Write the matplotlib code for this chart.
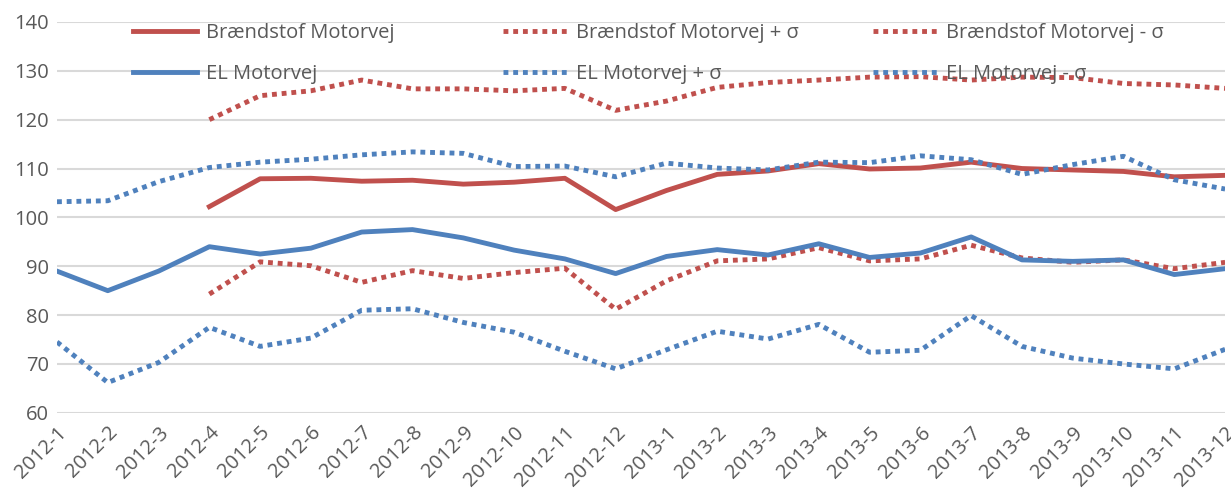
import matplotlib.pyplot as plt
import numpy as np

months = [f"2012-{m}" for m in range(1, 13)] + [f"2013-{m}" for m in range(1, 13)]

# EL Motorvej (full 24 months)
el = [89.0, 85.0, 89.0, 94.0, 92.5, 93.7, 97.0, 97.5, 95.8, 93.3, 91.5, 88.5,
      92.0, 93.4, 92.3, 94.6, 91.8, 92.7, 96.0, 91.3, 91.0, 91.3, 88.3, 89.5]
el_plus = [103.2, 103.4, 107.3, 110.2, 111.3, 111.9, 112.8, 113.4, 113.1, 110.4, 110.5, 108.3,
           111.1, 110.1, 109.7, 111.3, 111.2, 112.6, 111.8, 108.8, 110.8, 112.5, 107.7, 105.8]
el_minus = [74.5, 66.2, 70.3, 77.5, 73.6, 75.3, 81.0, 81.3, 78.5, 76.5, 72.6, 69.0,
            72.9, 76.7, 75.1, 78.1, 72.4, 72.8, 79.9, 73.6, 71.2, 70.0, 69.0, 73.0]

# Braendstof Motorvej (starts 2012-4)
fuel = [np.nan, np.nan, np.nan, 102.2, 107.9, 108.0, 107.4, 107.6, 106.8, 107.2, 108.0, 101.6,
        105.5, 108.8, 109.5, 111.0, 109.9, 110.1, 111.3, 110.0, 109.7, 109.4, 108.3, 108.6]
fuel_plus = [np.nan, np.nan, np.nan, 120.0, 124.9, 125.9, 128.1, 126.3, 126.3, 125.9, 126.4, 121.9,
             123.8, 126.6, 127.6, 128.1, 128.7, 128.8, 128.1, 128.7, 128.6, 127.4, 127.1, 126.4]
fuel_minus = [np.nan, np.nan, np.nan, 84.3, 90.9, 90.1, 86.7, 89.1, 87.5, 88.7, 89.6, 81.2,
              87.0, 91.1, 91.5, 93.8, 91.1, 91.5, 94.3, 91.7, 90.8, 91.3, 89.5, 90.8]

RED = "#C0504D"
BLUE = "#4F81BD"
TXT = "#595959"

plt.rcParams['font.family'] = ['Open Sans', 'DejaVu Sans']

fig = plt.figure(figsize=(12.31, 4.98), dpi=100)
ax = fig.add_axes([0.0463, 0.171, 0.9489, 0.785])

x = np.arange(len(months))
dot = (0, (1, 1))
lw = 3.5
l1, = ax.plot(x, fuel, color=RED, lw=lw, label="Brændstof Motorvej")
l2, = ax.plot(x, fuel_plus, color=RED, lw=lw, ls=dot, dash_capstyle='butt', label="Brændstof Motorvej + σ")
l3, = ax.plot(x, fuel_minus, color=RED, lw=lw, ls=dot, dash_capstyle='butt', label="Brændstof Motorvej - σ")
l4, = ax.plot(x, el, color=BLUE, lw=lw, label="EL Motorvej")
l5, = ax.plot(x, el_plus, color=BLUE, lw=lw, ls=dot, dash_capstyle='butt', label="EL Motorvej + σ")
l6, = ax.plot(x, el_minus, color=BLUE, lw=lw, ls=dot, dash_capstyle='butt', label="EL Motorvej - σ")

ax.set_xlim(0, 23)
ax.set_ylim(60, 140)
ax.set_yticks(range(60, 141, 10))
ax.set_xticks(x)
ax.set_xticklabels(months, rotation=45, ha='right', rotation_mode='anchor')
ax.tick_params(length=0, labelsize=14.5, colors=TXT, pad=7)
ax.tick_params(axis='y', pad=6)
ax.grid(axis='y', color='#D9D9D9', lw=1.5)
ax.set_axisbelow(True)
for s in ax.spines.values():
    s.set_visible(False)

# three legend columns of equal spacing, like the original
axw = 1168.0
for i, pair in enumerate([(l1, l4), (l2, l5), (l3, l6)]):
    xa = (133 - 57 + i * 370) / axw
    leg = ax.legend(handles=list(pair), loc='upper left', bbox_to_anchor=(xa, 0.998),
                    frameon=False, fontsize=14.5, borderpad=0, borderaxespad=0,
                    handlelength=3.2, handletextpad=0.4, labelspacing=1.05,
                    labelcolor=TXT)
    if i < 2:
        ax.add_artist(leg)

fig.savefig("out.png", dpi=100)
